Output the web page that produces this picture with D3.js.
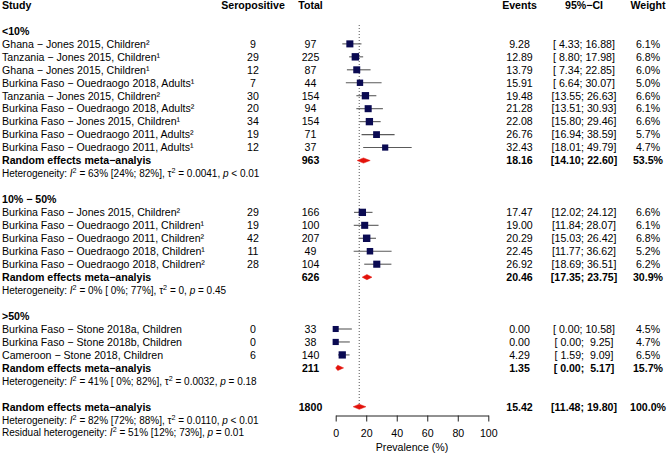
<!DOCTYPE html>
<html>
<head>
<meta charset="utf-8">
<script src="https://cdn.jsdelivr.net/npm/d3@7"></script>
<style>
  html, body { margin: 0; padding: 0; background: #fff; }
  svg text { white-space: pre; }
</style>
</head>
<body>
<svg id="chart" width="669" height="454"></svg>
<script>
// ---------------- DATA ----------------
const groupLabels = ["<10%", "10% − 50%", ">50%"];

const studies = [
  "Ghana − Jones 2015, Children²",
  "Tanzania − Jones 2015, Children¹",
  "Ghana − Jones 2015, Children¹",
  "Burkina Faso − Ouedraogo 2018, Adults¹",
  "Tanzania − Jones 2015, Children²",
  "Burkina Faso − Ouedraogo 2018, Adults²",
  "Burkina Faso − Jones 2015, Children¹",
  "Burkina Faso − Ouedraogo 2011, Adults²",
  "Burkina Faso − Ouedraogo 2011, Adults¹",
  "Burkina Faso − Jones 2015, Children²",
  "Burkina Faso − Ouedraogo 2011, Children¹",
  "Burkina Faso − Ouedraogo 2011, Children²",
  "Burkina Faso − Ouedraogo 2018, Children¹",
  "Burkina Faso − Ouedraogo 2018, Children²",
  "Burkina Faso − Stone 2018a, Children",
  "Burkina Faso − Stone 2018b, Children",
  "Cameroon − Stone 2018, Children"
];
const studyGroup   = [0,0,0,0,0,0,0,0,0, 1,1,1,1,1, 2,2,2];
const seropositive = [9, 29, 12, 7, 30, 20, 34, 19, 12, 29, 19, 42, 11, 28, 0, 0, 6];
const totals       = [97, 225, 87, 44, 154, 94, 154, 71, 37, 166, 100, 207, 49, 104, 33, 38, 140];
const events       = [9.28, 12.89, 13.79, 15.91, 19.48, 21.28, 22.08, 26.76, 32.43,
                      17.47, 19.00, 20.29, 22.45, 26.92, 0.00, 0.00, 4.29];
const ciLow        = [4.33, 8.80, 7.34, 6.64, 13.55, 13.51, 15.80, 16.94, 18.01,
                      12.02, 11.84, 15.03, 11.77, 18.69, 0.00, 0.00, 1.59];
const ciHigh       = [16.88, 17.98, 22.85, 30.07, 26.63, 30.93, 29.46, 38.59, 49.79,
                      24.12, 28.07, 26.42, 36.62, 36.51, 10.58, 9.25, 9.09];
const weights      = [6.1, 6.8, 6.0, 5.0, 6.6, 6.1, 6.6, 5.7, 4.7,
                      6.6, 6.1, 6.8, 5.2, 6.2, 4.5, 4.7, 6.5];

const subTotals = [963, 626, 211];
const subEst    = [18.16, 20.46, 1.35];
const subLow    = [14.10, 17.35, 0.00];
const subHigh   = [22.60, 23.75, 5.17];
const subWeight = [53.5, 30.9, 15.7];
const subHetI2   = ["63%", "0%", "41%"];
const subHetI2CI = ["[24%; 82%]", "[ 0%; 77%]", "[ 0%; 82%]"];
const subHetTau2 = ["0.0041", "0", "0.0032"];
const subHetP    = ["< 0.01", "= 0.45", "= 0.18"];

const overallTotal = 1800, overallEst = 15.42, overallLow = 11.48, overallHigh = 19.80, overallWeight = 100.0;
const overallHet = {i2: "82%", ci: "[72%; 88%]", tau2: "0.0110", p: "< 0.01"};
const residualHet = {i2: "51%", ci: "[12%; 73%]", p: "= 0.01"};

const tickValues = [0, 20, 40, 60, 80, 100];
const reLabel = "Random effects meta−analyis";

// ---------------- LAYOUT ----------------
const FONT = "'Liberation Sans', Arial, Helvetica, sans-serif";
const FS = 10.6, FSH = 10.0;
const svg = d3.select("#chart");
const x = d3.scaleLinear().domain([0, 100]).range([335.7, 488.3]);
const yLine = d3.scaleLinear().domain([0, 33]).range([5, 5 + 33 * 12.96]);
const base = l => yLine(l) + 3.8;

const col = { study: 2, sero: 253, total: 310.5, events: 519.5, ci: 584, weight: 648 };
const f2 = d3.format(".2f"), f5 = d3.format("5.2f"), f1 = d3.format(".1f");
const ciText = (lo, hi) => `[${f5(lo)}; ${f5(hi)}]`;

const gText = svg.append("g").attr("font-family", FONT).attr("font-size", FS).attr("fill", "#000");
const gPlot = svg.append("g");

function txt(xp, line, s, anchor, bold) {
  return gText.append("text").attr("x", xp).attr("y", base(line))
    .attr("text-anchor", anchor || "start")
    .attr("font-weight", bold ? "bold" : "normal")
    .attr("xml:space", "preserve").text(s);
}

// header
txt(col.study, 0, "Study", "start", true);
txt(col.sero, 0, "Seropositive", "middle", true);
txt(col.total, 0, "Total", "middle", true);
txt(col.events, 0, "Events", "middle", true);
txt(col.ci, 0, "95%−CI", "middle", true);
txt(col.weight, 0, "Weight", "middle", true);

function hetText(line, prefix, i2, ci, tau2, p) {
  const t = gText.append("text").attr("x", col.study).attr("y", base(line))
    .attr("font-size", FSH).attr("xml:space", "preserve");
  t.append("tspan").text(prefix);
  t.append("tspan").attr("font-style", "italic").text("I");
  t.append("tspan").attr("font-size", 7.2).attr("dy", -4).text("2");
  t.append("tspan").attr("dy", 4).text(` = ${i2} ${ci}, `);
  if (tau2 !== null) {
    t.append("tspan").text("τ");
    t.append("tspan").attr("font-size", 7.2).attr("dy", -4).text("2");
    t.append("tspan").attr("dy", 4).text(` = ${tau2}, `);
  }
  t.append("tspan").attr("font-style", "italic").text("p");
  t.append("tspan").text(` ${p}`);
}

function square(line, est, lo, hi, w) {
  const yc = yLine(line);
  gPlot.append("line").attr("x1", x(lo)).attr("x2", x(hi)).attr("y1", yc).attr("y2", yc)
    .attr("stroke", "#5a5a5a").attr("stroke-width", 1.1);
  const s = 2.85 * Math.sqrt(w);
  gPlot.append("rect").attr("x", x(est) - s / 2).attr("y", yc - s / 2)
    .attr("width", s).attr("height", s).attr("fill", "#0a0a52");
}
function diamond(line, est, lo, hi) {
  const yc = yLine(line), h = 2.6;
  gPlot.append("polygon")
    .attr("points", [[x(lo), yc], [x(est), yc - h], [x(hi), yc], [x(est), yc + h]].map(p => p.join(",")).join(" "))
    .attr("fill", "#e3120b").attr("stroke", "#e3120b").attr("stroke-width", 0.5);
}

let line = 2;
groupLabels.forEach((g, gi) => {
  txt(col.study, line, g, "start", true);
  line++;
  studies.forEach((s, i) => {
    if (studyGroup[i] !== gi) return;
    txt(col.study, line, s);
    txt(col.sero, line, String(seropositive[i]), "middle");
    txt(col.total, line, String(totals[i]), "middle");
    txt(col.events, line, f2(events[i]), "middle");
    txt(col.ci, line, ciText(ciLow[i], ciHigh[i]), "middle");
    txt(col.weight, line, f1(weights[i]) + "%", "middle");
    square(line, events[i], ciLow[i], ciHigh[i], weights[i]);
    line++;
  });
  txt(col.study, line, reLabel, "start", true);
  txt(col.total, line, String(subTotals[gi]), "middle", true);
  txt(col.events, line, f2(subEst[gi]), "middle", true);
  txt(col.ci, line, ciText(subLow[gi], subHigh[gi]), "middle", true);
  txt(col.weight, line, f1(subWeight[gi]) + "%", "middle", true);
  diamond(line, subEst[gi], subLow[gi], subHigh[gi]);
  line++;
  hetText(line, "Heterogeneity: ", subHetI2[gi], subHetI2CI[gi], subHetTau2[gi], subHetP[gi]);
  line += 2;
});

// overall
const ovLine = line; // 31
txt(col.study, ovLine, reLabel, "start", true);
txt(col.total, ovLine, String(overallTotal), "middle", true);
txt(col.events, ovLine, f2(overallEst), "middle", true);
txt(col.ci, ovLine, ciText(overallLow, overallHigh), "middle", true);
txt(col.weight, ovLine, f1(overallWeight) + "%", "middle", true);
hetText(ovLine + 1, "Heterogeneity: ", overallHet.i2, overallHet.ci, overallHet.tau2, overallHet.p);
hetText(ovLine + 2, "Residual heterogeneity: ", residualHet.i2, residualHet.ci, null, residualHet.p);

// reference dotted line
gPlot.insert("line", ":first-child")
  .attr("x1", x(overallEst)).attr("x2", x(overallEst))
  .attr("y1", 25).attr("y2", yLine(ovLine) - 2)
  .attr("stroke", "#555").attr("stroke-width", 1).attr("stroke-dasharray", "1,2");

diamond(ovLine, overallEst, overallLow, overallHigh);

// axis
const axisG = svg.append("g").attr("transform", "translate(0,415.5)")
  .call(d3.axisBottom(x).tickValues(tickValues).tickFormat(d3.format("d"))
    .tickSize(6).tickSizeOuter(0).tickPadding(8));
axisG.selectAll("text").attr("font-family", FONT).attr("font-size", FS).attr("fill", "#000");
axisG.selectAll("line, path").attr("stroke", "#222");
svg.append("text").attr("x", x(50)).attr("y", 450.8).attr("text-anchor", "middle")
  .attr("font-family", FONT).attr("font-size", FS).text("Prevalence (%)");
</script>
</body>
</html>
